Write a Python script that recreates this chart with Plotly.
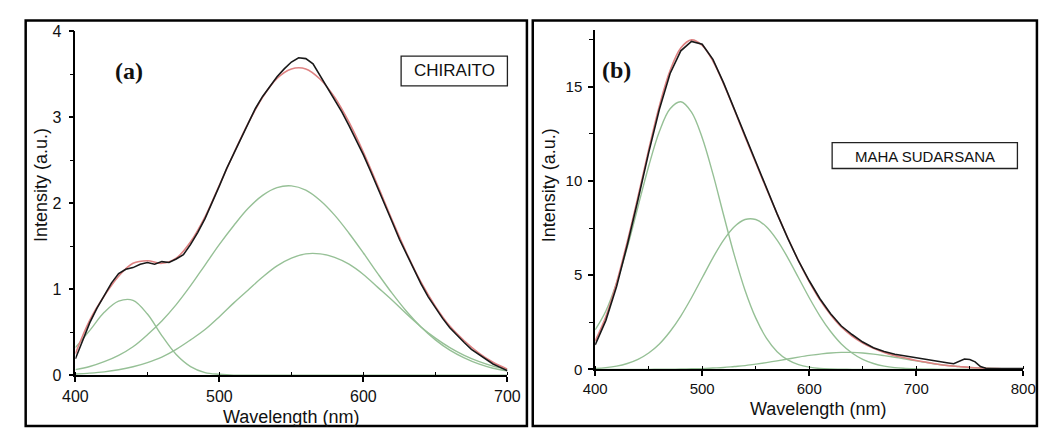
import plotly.graph_objects as go

W, H = 1047, 437

# ---------------- Panel (a) CHIRAITO ----------------
wl_a_fit = list(range(400, 701, 10))
fit_a = [0.25, 0.64, 0.92, 1.15, 1.30, 1.33, 1.30, 1.36, 1.55, 1.84, 2.21, 2.58, 2.93, 3.23,
         3.45, 3.56, 3.56, 3.44, 3.23, 2.94, 2.59, 2.20, 1.80, 1.42, 1.08, 0.80, 0.57, 0.40,
         0.26, 0.15, 0.07]
g1_a = [0.32, 0.52, 0.73, 0.86, 0.87, 0.71, 0.46, 0.24, 0.10, 0.03, 0.01, 0.0, 0.0, 0.0,
        0.0, 0.0, 0.0, 0.0, 0.0, 0.0, 0.0, 0.0, 0.0, 0.0, 0.0, 0.0, 0.0, 0.0, 0.0, 0.0, 0.0]
g2_a = [0.064, 0.10, 0.156, 0.23, 0.33, 0.47, 0.63, 0.82, 1.04, 1.28, 1.52, 1.74, 1.94, 2.09,
        2.18, 2.20, 2.15, 2.03, 1.86, 1.65, 1.42, 1.18, 0.95, 0.74, 0.56, 0.41, 0.29, 0.20,
        0.13, 0.08, 0.05]
g3_a = [0.013, 0.023, 0.038, 0.062, 0.097, 0.146, 0.21, 0.30, 0.41, 0.53, 0.68, 0.84, 0.99,
        1.14, 1.27, 1.36, 1.41, 1.41, 1.37, 1.29, 1.17, 1.02, 0.87, 0.71, 0.56, 0.43, 0.32,
        0.23, 0.16, 0.105, 0.068]
wl_a_data = list(range(400, 701, 5))
data_a = [0.19, 0.40, 0.61, 0.78, 0.93, 1.07, 1.18, 1.23, 1.25, 1.29, 1.31, 1.29, 1.32, 1.31,
          1.35, 1.40, 1.52, 1.66, 1.82, 2.00, 2.20, 2.40, 2.58, 2.76, 2.93, 3.10, 3.24, 3.36,
          3.47, 3.56, 3.64, 3.69, 3.68, 3.62, 3.48, 3.34, 3.20, 3.06, 2.90, 2.73, 2.56, 2.37,
          2.18, 1.98, 1.78, 1.58, 1.40, 1.22, 1.06, 0.91, 0.78, 0.66, 0.55, 0.46, 0.38, 0.30,
          0.24, 0.18, 0.13, 0.09, 0.05]

# ---------------- Panel (b) MAHA SUDARSANA ----------------
wl_b_fit = list(range(400, 801, 10))
fit_b = [1.5, 2.8, 4.6, 6.78, 9.16, 11.65, 13.98, 15.85, 17.05, 17.48, 17.19, 16.36, 15.15,
         13.78, 12.35, 10.96, 9.59, 8.25, 6.97, 5.76, 4.66, 3.69, 2.90, 2.25, 1.77, 1.40, 1.12,
         0.90, 0.73, 0.60, 0.47, 0.37, 0.27, 0.20, 0.15, 0.10, 0.07, 0.05, 0.03, 0.02, 0.01]
g1_b = [2.1, 3.1, 4.6, 6.47, 8.63, 10.78, 12.62, 13.83, 14.20, 13.65, 12.29, 10.37, 8.19,
        6.06, 4.20, 2.73, 1.66, 0.94, 0.50, 0.25, 0.12, 0.05, 0.02, 0.01, 0.0, 0.0, 0.0, 0.0,
        0.0, 0.0, 0.0, 0.0, 0.0, 0.0, 0.0, 0.0, 0.0, 0.0, 0.0, 0.0, 0.0]
g2_b = [0.05, 0.09, 0.17, 0.31, 0.53, 0.87, 1.35, 2.01, 2.83, 3.80, 4.86, 5.92, 6.86, 7.57,
        7.95, 7.95, 7.57, 6.86, 5.92, 4.86, 3.80, 2.83, 2.01, 1.35, 0.87, 0.53, 0.31, 0.17,
        0.09, 0.05, 0.02, 0.01, 0.0, 0.0, 0.0, 0.0, 0.0, 0.0, 0.0, 0.0, 0.0]
g3_b = [0.0, 0.0, 0.0, 0.0, 0.0, 0.0, 0.01, 0.01, 0.02, 0.03, 0.04, 0.07, 0.10, 0.15, 0.20,
        0.28, 0.36, 0.45, 0.55, 0.65, 0.74, 0.81, 0.87, 0.90, 0.90, 0.87, 0.81, 0.73, 0.64,
        0.55, 0.45, 0.36, 0.27, 0.20, 0.15, 0.10, 0.07, 0.05, 0.03, 0.02, 0.01]
wl_b_data = [400, 410, 420, 430, 440, 450, 460, 470, 480, 490, 500, 510, 520, 530, 540, 550,
             560, 570, 580, 590, 600, 610, 620, 630, 640, 650, 660, 670, 680, 690, 700, 710,
             720, 730, 735, 740, 745, 750, 755, 760, 765, 770, 780, 790, 800]
data_b = [1.3, 2.6, 4.4, 6.6, 9.0, 11.5, 13.8, 15.7, 16.9, 17.4, 17.25, 16.45, 15.2, 13.8,
          12.35, 10.95, 9.6, 8.25, 6.95, 5.75, 4.7, 3.75, 2.95, 2.3, 1.85, 1.45, 1.15, 0.95,
          0.8, 0.7, 0.62, 0.52, 0.42, 0.34, 0.30, 0.42, 0.55, 0.52, 0.40, 0.15, 0.06, 0.05,
          0.06, 0.04, 0.05]

GREEN = "rgb(150,192,150)"
RED = "rgb(222,130,130)"
BLACK = "rgb(25,25,25)"
FONT = "Liberation Sans, Arial, sans-serif"

fig = go.Figure()

def add_panel(xa, ya, wl_fit, comps, fit, wl_data, data):
    for c in comps:
        fig.add_trace(go.Scatter(x=wl_fit, y=c, mode="lines", xaxis=xa, yaxis=ya,
                                 line=dict(color=GREEN, width=1.4, shape="spline"),
                                 showlegend=False, hoverinfo="skip"))
    fig.add_trace(go.Scatter(x=wl_fit, y=fit, mode="lines", xaxis=xa, yaxis=ya,
                             line=dict(color=RED, width=1.6, shape="spline"),
                             showlegend=False, hoverinfo="skip"))
    fig.add_trace(go.Scatter(x=wl_data, y=data, mode="lines", xaxis=xa, yaxis=ya,
                             line=dict(color=BLACK, width=1.6),
                             showlegend=False, hoverinfo="skip"))

add_panel("x", "y", wl_a_fit, [g1_a, g2_a, g3_a], fit_a, wl_a_data, data_a)
add_panel("x2", "y2", wl_b_fit, [g1_b, g2_b, g3_b], fit_b, wl_b_data, data_b)

def axis_style(**kw):
    d = dict(showline=True, linecolor="black", linewidth=1.8, ticks="outside", ticklen=5,
             tickwidth=1.5, tickcolor="black", showgrid=False, zeroline=False,
             tickfont=dict(family=FONT, size=16, color="#111"), fixedrange=True)
    d.update(kw)
    return d

fig.update_layout(
    width=W, height=H, margin=dict(l=0, r=0, t=0, b=0), autosize=False,
    paper_bgcolor="white", plot_bgcolor="white",
    xaxis=axis_style(domain=[64 / W, 507 / W], range=[400, 700], anchor="y", tick0=400, dtick=100,
                     ticklabelstandoff=1,
                     minor=dict(dtick=50, ticklen=3, ticks="inside", tickcolor="black", tickwidth=1.2)),
    yaxis=axis_style(domain=[1 - 382 / H, 1 - 24 / H], range=[0, 4], anchor="x", tick0=0, dtick=1,
                     ticklabelstandoff=4,
                     minor=dict(dtick=0.5, ticklen=4, ticks="outside", tickcolor="black", tickwidth=1.2)),
    xaxis2=axis_style(domain=[597 / W, 1036 / W], range=[400, 800], anchor="y2", tick0=400, dtick=100,
                      tickfont=dict(family=FONT, size=15, color="#111"), ticklabelstandoff=0,
                      minor=dict(dtick=50, ticklen=3, ticks="inside", tickcolor="black", tickwidth=1.2)),
    yaxis2=axis_style(domain=[1 - 376 / H, 1 - 23 / H], range=[0, 18], anchor="x2", tick0=0, dtick=5,
                      tickfont=dict(family=FONT, size=15, color="#111"), ticklabelstandoff=3,
                      minor=dict(dtick=2.5, ticklen=4, ticks="outside", tickcolor="black", tickwidth=1.2)),
)

def px(x):
    return x / W

def py(y):
    return 1 - y / H

shapes = [
    dict(type="rect", xref="paper", yref="paper", x0=px(13), x1=px(527), y0=py(435), y1=py(13),
         line=dict(color="black", width=2.5)),
    dict(type="rect", xref="paper", yref="paper", x0=px(533), x1=px(1050), y0=py(435), y1=py(13),
         line=dict(color="black", width=2.5)),
    dict(type="rect", xref="paper", yref="paper", x0=px(398), x1=px(507), y0=py(81), y1=py(50),
         line=dict(color="#222", width=1.3)),
    dict(type="rect", xref="paper", yref="paper", x0=px(840), x1=px(1030), y0=py(167), y1=py(140),
         line=dict(color="#222", width=1.3)),
]
fig.update_layout(shapes=shapes)

def ann(text, x, y, size, family=FONT, angle=0, bold=False):
    return dict(text=f"<b>{text}</b>" if bold else text, x=px(x), y=py(y), xref="paper", yref="paper",
                showarrow=False, textangle=angle, xanchor="center", yanchor="middle",
                font=dict(family=family, size=size, color="#111"))

annotations = [
    ann("Intensity (a.u.)", 29, 184, 18, angle=-90),
    ann("Wavelength (nm)", 285, 426, 18),
    ann("Intensity (a.u.)", 550, 184, 18, angle=-90),
    ann("Wavelength (nm)", 825, 417, 18),
    ann("(a)", 119, 66, 24, family="Liberation Serif, Times New Roman, serif", bold=True),
    ann("(b)", 619, 65, 24, family="Liberation Serif, Times New Roman, serif", bold=True),
    ann("CHIRAITO", 452.5, 65.5, 17),
    ann("MAHA SUDARSANA", 935, 154, 15),
]
fig.update_layout(annotations=annotations)

fig.write_html("out.html")
